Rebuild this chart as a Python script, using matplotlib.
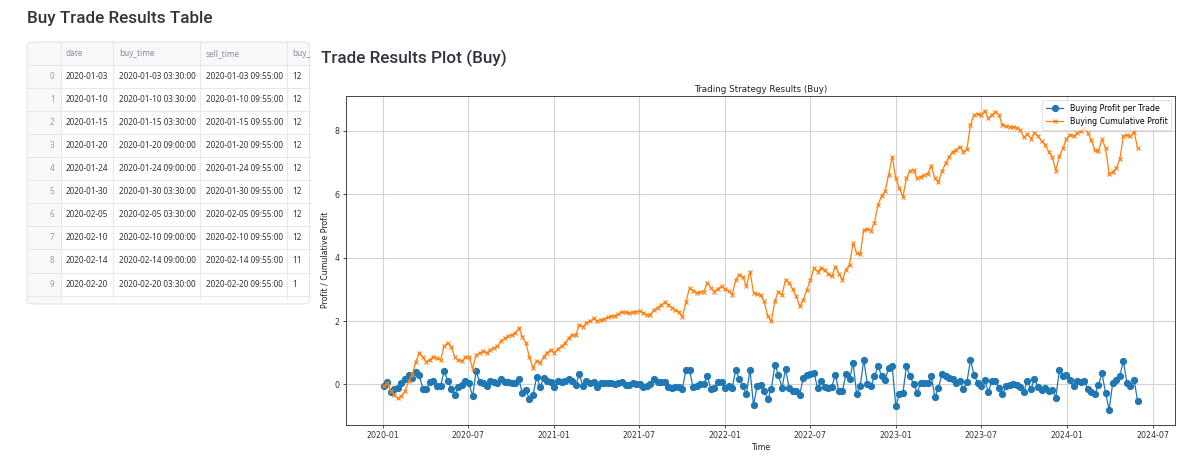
import numpy as np
import pandas as pd
import matplotlib
matplotlib.use("Agg")
import matplotlib.pyplot as plt
import matplotlib.dates as mdates
from matplotlib.ticker import MultipleLocator
from matplotlib.patches import FancyBboxPatch, Rectangle
from matplotlib.lines import Line2D

# ---------------- data ----------------
table_columns = ["", "date", "buy_time", "sell_time", "buy_"]
table_index = ["0", "1", "2", "3", "4", "5", "6", "7", "8", "9"]
table_date = ["2020-01-03", "2020-01-10", "2020-01-15", "2020-01-20", "2020-01-24",
              "2020-01-30", "2020-02-05", "2020-02-10", "2020-02-14", "2020-02-20"]
table_buy_time = ["2020-01-03 03:30:00", "2020-01-10 03:30:00", "2020-01-15 03:30:00",
                  "2020-01-20 09:00:00", "2020-01-24 09:00:00", "2020-01-30 03:30:00",
                  "2020-02-05 03:30:00", "2020-02-10 09:00:00", "2020-02-14 09:00:00",
                  "2020-02-20 03:30:00"]
table_sell_time = ["2020-01-03 09:55:00", "2020-01-10 09:55:00", "2020-01-15 09:55:00",
                   "2020-01-20 09:55:00", "2020-01-24 09:55:00", "2020-01-30 09:55:00",
                   "2020-02-05 09:55:00", "2020-02-10 09:55:00", "2020-02-14 09:55:00",
                   "2020-02-20 09:55:00"]
table_buy_price = ["12", "12", "12", "12", "12", "12", "12", "12", "11", "1"]

first_trade = "2020-01-03"
last_trade = "2024-05-30"
cumulative_profit = [
    # 2020
    -0.06, 0.03, -0.20, -0.33,   -0.43, -0.38, -0.20, 0.10,   0.30, 0.70, 0.99, 0.86,
    0.72, 0.78, 0.88, 0.83,      0.77, 1.20, 1.31, 1.18,      0.86, 0.77, 0.74, 0.85,
    0.88, 0.50, 0.93, 1.00,      1.04, 1.00, 1.10, 1.16,      1.20, 1.38, 1.45, 1.52,
    1.57, 1.62, 1.78, 1.50,      1.31, 0.85, 0.52, 0.75,      0.68, 0.88, 1.00, 1.09,
    # 2021
    1.00, 1.12, 1.20, 1.30,      1.46, 1.57, 1.55, 1.88,      1.82, 1.94, 1.99, 2.08,
    2.00, 2.04, 2.07, 2.12,      2.15, 2.17, 2.22, 2.30,      2.27, 2.25, 2.28, 2.30,
    2.32, 2.25, 2.20, 2.20,      2.36, 2.42, 2.50, 2.59,      2.52, 2.42, 2.35, 2.28,
    2.13, 2.60, 3.04, 2.96,      2.90, 2.91, 2.93, 3.20,      3.05, 2.93, 3.02, 3.10,
    # 2022
    3.00, 2.95, 2.83, 3.30,      3.46, 3.40, 3.09, 3.56,      2.90, 2.85, 2.82, 2.62,
    2.15, 2.00, 2.62, 2.93,      2.82, 3.30, 3.20, 3.00,      2.78, 2.46, 2.67, 2.98,
    3.30, 3.67, 3.56, 3.67,      3.60, 3.50, 3.41, 3.72,      3.50, 3.30, 3.62, 3.78,
    4.46, 4.15, 4.10, 4.88,      4.90, 4.85, 5.10, 5.67,      5.95, 6.09, 6.62, 7.19,
    # 2023
    6.50, 6.20, 5.92, 6.50,      6.75, 6.77, 6.51, 6.56,      6.61, 6.65, 6.90, 6.50,
    6.40, 6.72, 6.98, 7.19,      7.35, 7.40, 7.50, 7.35,      7.42, 8.19, 8.50, 8.55,
    8.50, 8.64, 8.40, 8.50,      8.60, 8.50, 8.19, 8.15,      8.13, 8.13, 8.10, 8.03,
    7.80, 7.90, 7.75, 7.93,      7.85, 7.67, 7.57, 7.35,      7.17, 6.75, 7.20, 7.45,
    # 2024
    7.75, 7.88, 7.83, 7.93,      8.00, 8.10, 7.95, 7.70,      7.40, 7.38, 7.73, 7.45,
    6.65, 6.70, 6.83, 7.10,      7.83, 7.88, 7.83, 7.98,      7.46,
]

cum = np.array(cumulative_profit)
profit_per_trade = np.diff(np.concatenate([[0.0], cum]))
trade_dates = pd.date_range(first_trade, last_trade, periods=len(cum))

# ---------------- figure ----------------
W, H = 1200, 466
fig = plt.figure(figsize=(W / 100, H / 100), dpi=100)
fig.patch.set_facecolor("white")


def fx(x):
    return x / W


def fy(y):
    return 1 - y / H


TEXT = "#31333F"
HEAD_FONT = ["Roboto", "DejaVu Sans"]
CELL_FONT = ["Noto Sans", "DejaVu Sans"]

fig.text(fx(27), fy(19), "Buy Trade Results Table", fontsize=12.3, fontweight="medium",
         family=HEAD_FONT, color=TEXT, ha="left", va="center")
fig.text(fx(321), fy(58), "Trade Results Plot (Buy)", fontsize=12.3, fontweight="medium",
         family=HEAD_FONT, color=TEXT, ha="left", va="center")

# ---- table ----
tbl_left, tbl_right, tbl_top, tbl_bottom = 27, 309.5, 42, 304
row_h = 23.05
col_edges = [27, 60.7, 113.3, 200.3, 287.3, 309.5]
line_c = "#e6e8ee"
bg_c = "#f8f9fb"

fig.patches.append(Rectangle((fx(tbl_left), fy(tbl_top + row_h)), fx(tbl_right - tbl_left), row_h / H,
                             transform=fig.transFigure, facecolor=bg_c, edgecolor="none", zorder=0))
fig.patches.append(Rectangle((fx(tbl_left), fy(tbl_bottom)), fx(col_edges[1] - tbl_left),
                             (tbl_bottom - tbl_top) / H, transform=fig.transFigure,
                             facecolor=bg_c, edgecolor="none", zorder=0))
for i in range(1, 12):
    yy = tbl_top + i * row_h
    if yy < tbl_bottom - 4:
        fig.lines.append(Line2D([fx(tbl_left), fx(tbl_right)], [fy(yy), fy(yy)],
                                transform=fig.transFigure, color=line_c, lw=0.8))
for xe in col_edges[1:-1]:
    fig.lines.append(Line2D([fx(xe), fx(xe)], [fy(tbl_top), fy(tbl_bottom - 5)],
                            transform=fig.transFigure, color=line_c, lw=0.8))
fig.patches.append(FancyBboxPatch((fx(tbl_left), fy(tbl_bottom)), fx(tbl_right - tbl_left),
                                  (tbl_bottom - tbl_top) / H, boxstyle="round,pad=0,rounding_size=0.008",
                                  transform=fig.transFigure, facecolor="none", edgecolor=line_c,
                                  lw=0.9, zorder=2))

hdr_y = tbl_top + row_h / 2
col_text_x = [None, 65.7, 119, 205.7, 292.7]
CELL_FS = 5.9
for j in range(1, 5):
    fig.text(fx(col_text_x[j]), fy(hdr_y), table_columns[j], fontsize=CELL_FS, family=CELL_FONT,
             color="#8a8d99", ha="left", va="center")
for i in range(len(table_index)):
    yc = tbl_top + (i + 1.5) * row_h
    fig.text(fx(54.5), fy(yc), table_index[i], fontsize=CELL_FS, family=CELL_FONT,
             color="#9a9ca6", ha="right", va="center")
    for j, col in enumerate([table_date, table_buy_time, table_sell_time, table_buy_price], start=1):
        fig.text(fx(col_text_x[j]), fy(yc), col[i], fontsize=CELL_FS, family=CELL_FONT,
                 color=TEXT, ha="left", va="center")

# ---- plot ----
ax = fig.add_axes([fx(346), fy(424.7), fx(1175.3 - 346), (424.7 - 95.7) / H])
ax.plot(trade_dates, profit_per_trade, "-o", color="#1f77b4", lw=0.9, ms=4.2,
        label="Buying Profit per Trade")
ax.plot(trade_dates, cum, "-x", color="#ff7f0e", lw=0.9, ms=3.4, mew=0.8,
        label="Buying Cumulative Profit")
ax.xaxis.set_major_locator(mdates.MonthLocator(bymonth=[1, 7]))
ax.xaxis.set_major_formatter(mdates.DateFormatter("%Y-%m"))
ax.yaxis.set_major_locator(MultipleLocator(2))
ax.grid(True, color="#d4d4d4", lw=0.8)
ax.set_axisbelow(True)
ax.tick_params(labelsize=5.7, length=2.5, width=0.6, colors="#333333", pad=2)
for s in ax.spines.values():
    s.set_color("#444444")
    s.set_linewidth(0.7)
ax.set_title("Trading Strategy Results (Buy)", fontsize=6.3, color="#222222", pad=3)
ax.set_xlabel("Time", fontsize=5.7, color="#222222", labelpad=2)
ax.set_ylabel("Profit / Cumulative Profit", fontsize=5.7, color="#222222", labelpad=4)
leg = ax.legend(loc="upper right", fontsize=5.7, frameon=True, borderpad=0.5, handlelength=2.2)
leg.get_frame().set_linewidth(0.5)

fig.savefig("out.png", dpi=100, facecolor="white")
